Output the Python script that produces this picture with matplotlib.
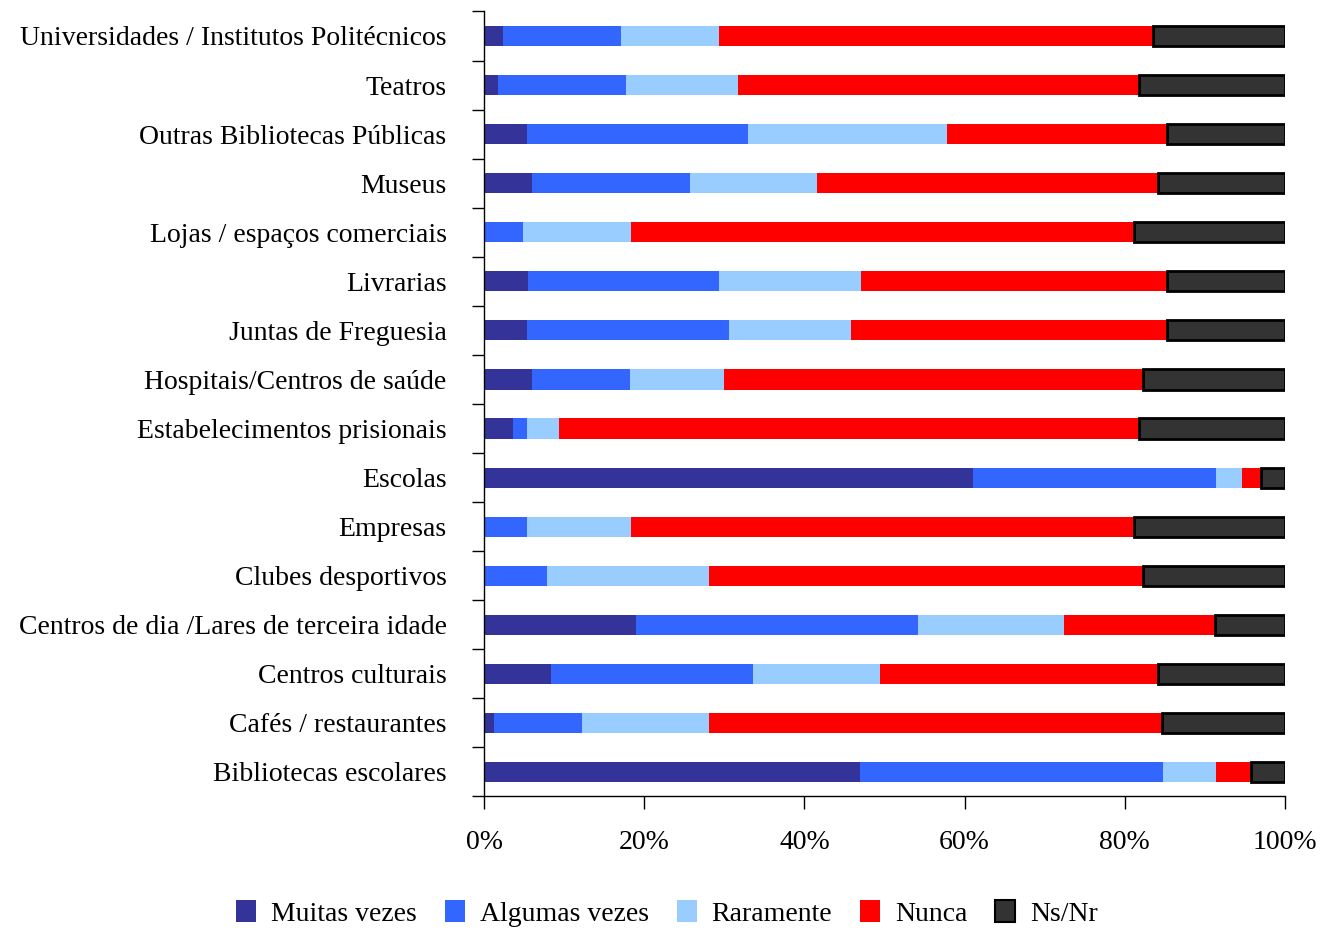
import matplotlib.pyplot as plt
import matplotlib.ticker as ticker
import numpy as np
from matplotlib.patches import Patch

plt.rcParams['font.family'] = ['Liberation Serif', 'DejaVu Serif']

# categories from bottom to top
categorias = ['Bibliotecas escolares', 'Cafés / restaurantes', 'Centros culturais',
              'Centros de dia /Lares de terceira idade', 'Clubes desportivos',
              'Empresas', 'Escolas', 'Estabelecimentos prisionais',
              'Hospitais/Centros de saúde', 'Juntas de Freguesia', 'Livrarias',
              'Lojas / espaços comerciais', 'Museus', 'Outras Bibliotecas Públicas',
              'Teatros', 'Universidades / Institutos Politécnicos']

muitas = np.array([46.9, 1.2, 8.4, 19.0, 0.0, 0.0, 61.0, 3.6, 6.0, 5.4, 5.5, 0.0, 6.0, 5.4, 1.7, 2.4])
algumas = np.array([37.9, 11.0, 25.2, 35.2, 7.9, 5.4, 30.4, 1.8, 12.2, 25.2, 23.8, 4.9, 19.7, 27.6, 16.0, 14.7])
raramente = np.array([6.6, 15.9, 15.8, 18.2, 20.2, 13.0, 3.2, 4.0, 11.8, 15.2, 17.8, 13.5, 15.9, 24.8, 14.0, 12.2])
nunca = np.array([4.4, 56.5, 34.7, 18.9, 54.2, 62.7, 2.4, 72.4, 52.3, 39.5, 38.2, 62.7, 42.5, 27.5, 50.1, 54.2])
nsnr = 100 - muitas - algumas - raramente - nunca

series = [('Muitas vezes', muitas, '#333399'),
          ('Algumas vezes', algumas, '#3366FF'),
          ('Raramente', raramente, '#99CCFF'),
          ('Nunca', nunca, '#FF0000'),
          ('Ns/Nr', nsnr, '#333333')]

fig, ax = plt.subplots(figsize=(13.21, 9.32), dpi=100)
fig.subplots_adjust(left=0.3664, right=0.9728, top=0.9877, bottom=0.1454)

y = np.arange(len(categorias))
left = np.zeros(len(categorias))
handles = []
for nome, vals, cor in series:
    if nome == 'Ns/Nr':
        ax.barh(y, vals, left=left, height=0.41, color=cor, edgecolor='black', lw=2)
    else:
        ax.barh(y, vals, left=left, height=0.41, color=cor, lw=0)
    left = left + vals
    handles.append(Patch(facecolor=cor, edgecolor='black' if nome == 'Ns/Nr' else cor,
                         lw=1.5 if nome == 'Ns/Nr' else 0, label=nome))

ax.set_xlim(0, 100)
ax.set_ylim(-0.5, len(categorias) - 0.5)
ax.xaxis.set_major_locator(ticker.MultipleLocator(20))
ax.xaxis.set_major_formatter(ticker.FuncFormatter(lambda v, p: '%d%%' % v))
ax.set_yticks(np.arange(-0.5, len(categorias)), minor=False)
ax.set_yticklabels([])
ax.set_yticks(y, minor=True)
ax.set_yticklabels(categorias, minor=True)
ax.tick_params(axis='y', which='major', length=9, width=1, direction='out')
ax.tick_params(axis='y', which='minor', length=0, pad=27, labelsize=20)
ax.tick_params(axis='x', which='major', length=9, width=1, direction='out', pad=15, labelsize=20)
for s in ['top', 'right']:
    ax.spines[s].set_visible(False)
for s in ['left', 'bottom']:
    ax.spines[s].set_linewidth(1)

fig.legend(handles=handles, loc='lower center', ncol=5, frameon=False, fontsize=20,
           bbox_to_anchor=(0.505, -0.021), handlelength=0.72, handleheight=0.85,
           handletextpad=0.54, columnspacing=1.0)

fig.savefig('out.png', dpi=100)
